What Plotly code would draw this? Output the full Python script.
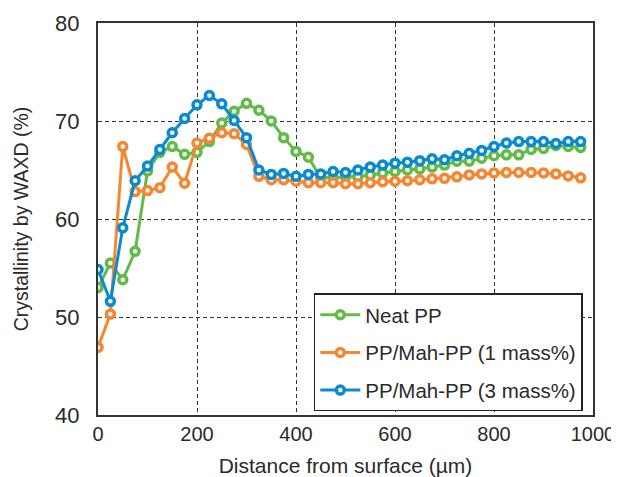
import plotly.graph_objects as go

distance = [0, 25, 50, 75, 100, 125, 150, 175, 200, 225, 250, 275, 300, 325, 350, 375,
            400, 425, 450, 475, 500, 525, 550, 575, 600, 625, 650, 675, 700, 725, 750,
            775, 800, 825, 850, 875, 900, 925, 950, 975]

neat_pp = [53.0, 55.5, 53.8, 56.7, 64.9, 66.8, 67.4, 66.6, 66.8, 67.9, 69.8, 71.0, 71.8,
           71.1, 70.0, 68.3, 66.9, 66.3, 64.2, 64.2, 64.3, 64.3, 64.5, 64.7, 64.85, 65.0,
           65.1, 65.3, 65.5, 65.9, 65.9, 66.2, 66.45, 66.55, 66.55, 67.1, 67.2, 67.5, 67.4, 67.3]

mah_1 = [46.9, 50.3, 67.4, 62.8, 62.9, 63.2, 65.3, 63.65, 67.75, 68.25, 68.8, 68.7, 67.6,
         64.35, 64.0, 64.0, 63.85, 63.7, 63.7, 63.7, 63.6, 63.6, 63.7, 63.8, 63.85, 63.9,
         64.0, 64.1, 64.15, 64.3, 64.5, 64.6, 64.7, 64.75, 64.75, 64.75, 64.7, 64.6, 64.4, 64.2]

mah_3 = [54.85, 51.6, 59.1, 63.9, 65.4, 67.1, 68.8, 70.25, 71.65, 72.6, 71.75, 70.05, 68.3,
         65.0, 64.55, 64.65, 64.35, 64.55, 64.6, 64.85, 64.75, 65.0, 65.3, 65.5, 65.7, 65.8,
         65.95, 66.15, 66.05, 66.45, 66.7, 67.0, 67.4, 67.75, 67.9, 67.9, 67.9, 67.7, 67.9, 67.9]

series_names = ["Neat PP", "PP/Mah-PP (1 mass%)", "PP/Mah-PP (3 mass%)"]
series_values = [neat_pp, mah_1, mah_3]
colors = ["#62bb46", "#f58632", "#0a8bd1"]

x_ticks = [0, 200, 400, 600, 800, 1000]
y_ticks = [40, 50, 60, 70, 80]

font_family = "Liberation Sans, Arial, sans-serif"
text_color = "#2a2a2a"

fig = go.Figure()
for i, (name, vals, col) in enumerate(zip(series_names, series_values, colors)):
    fig.add_trace(go.Scatter(
        x=distance, y=vals, name=name, mode="lines+markers",
        legendgroup=f"g{i}",
        line=dict(color=col, width=3),
        marker=dict(symbol="circle", size=8, color="white", line=dict(color=col, width=3.5)),
    ))

# The page body has an 8px default margin, so the figure is 8px smaller
fig.update_layout(
    width=611, height=469,
    margin=dict(l=90, r=26, t=15, b=62, autoexpand=False),
    plot_bgcolor="white", paper_bgcolor="white",
    font=dict(family=font_family, size=20, color=text_color),
    showlegend=True,
    legend=dict(
        x=0.436, y=0.31, xanchor="left", yanchor="top",
        bgcolor="white", bordercolor="#222", borderwidth=1.5,
        font=dict(size=20.5, color=text_color),
        tracegroupgap=8, itemwidth=40,
    ),
)

fig.update_xaxes(
    range=[0, 1000], tickvals=x_ticks, ticks="", automargin=False,
    showline=True, linecolor="#333", linewidth=2, mirror=True,
    showgrid=True, gridcolor="#333", griddash="4px,3px", gridwidth=1,
    zeroline=False,
    title=dict(text="Distance from surface (µm)", font=dict(size=21), standoff=14),
    tickfont=dict(size=20),
)
fig.update_yaxes(
    range=[40, 80], tickvals=y_ticks, ticks="", automargin=False,
    showline=True, linecolor="#333", linewidth=2, mirror=True,
    showgrid=True, gridcolor="#333", griddash="4px,3px", gridwidth=1,
    zeroline=False,
    title=dict(text="Crystallinity by WAXD (%)", font=dict(size=19.5), standoff=21),
    tickfont=dict(size=22), ticklabelstandoff=12,
)

fig.write_html("out.html")
